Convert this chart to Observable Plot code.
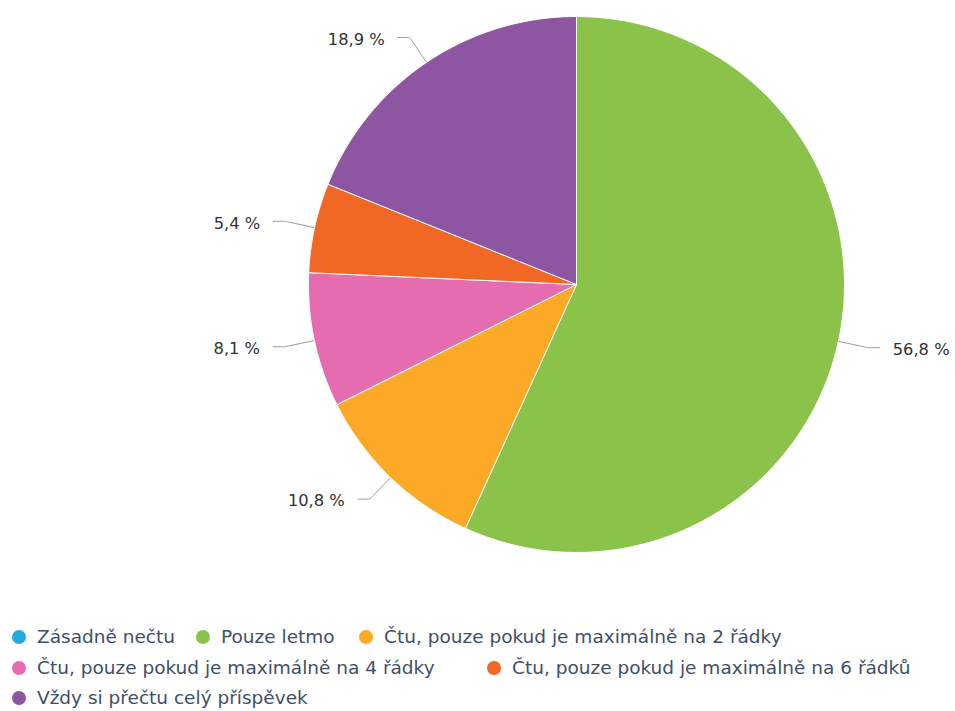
<!DOCTYPE html>
<html>
<head>
<meta charset="utf-8">
<script src="https://cdn.jsdelivr.net/npm/d3@7"></script>
<script src="https://cdn.jsdelivr.net/npm/@observablehq/plot@0.6"></script>
<style>
  html, body { margin: 0; padding: 0; background: #fff; }
  #wrap { position: relative; width: 955px; height: 711px; }
  #chart { position: absolute; left: 0; top: 0; }
  .lg { position: absolute; font-family: "DejaVu Sans", sans-serif; font-size: 18.5px; color: #3e5068; white-space: nowrap; line-height: 20px; }
  .lg .dot { position: absolute; width: 14px; height: 14px; border-radius: 50%; left: -25px; top: 3px; }
</style>
</head>
<body>
<div id="wrap"><div id="chart"></div><div id="legend"></div></div>
<script>
const names = [
  "Zásadně nečtu",
  "Pouze letmo",
  "Čtu, pouze pokud je maximálně na 2 řádky",
  "Čtu, pouze pokud je maximálně na 4 řádky",
  "Čtu, pouze pokud je maximálně na 6 řádků",
  "Vždy si přečtu celý příspěvek"
];
const values = [0, 56.8, 10.8, 8.1, 5.4, 18.9];
const colors = ["#24a9e1", "#8bc34a", "#fba926", "#e56caf", "#f16724", "#8e56a2"];
// legend text positions (left, top) in px
const legendPos = [[37, 627], [221, 627], [384, 627], [37, 658], [512, 658], [37, 688]];

const R = 268; // px radius
const pie = d3.pie().sort(null).value(d => d)(values);

const slices = [];
const connectors = [];
const labels = [];
pie.forEach((p, i) => {
  if (values[i] <= 0) return;
  const name = names[i];
  slices.push({name, x: 0, y: 0});
  const N = 120;
  for (let k = 0; k <= N; k++) {
    const a = p.startAngle + (p.endAngle - p.startAngle) * k / N;
    slices.push({name, x: Math.sin(a), y: Math.cos(a)});
  }
  slices.push({name, x: 0, y: 0});
  const mid = (p.startAngle + p.endAngle) / 2;
  const lr = 1 + 30 / R;
  const lx = Math.sin(mid) * lr, ly = Math.cos(mid) * lr;
  const side = Math.sin(mid) >= 0 ? 1 : -1;
  const ax = lx + side * 12 / R;
  const ex = Math.sin(mid), ey = Math.cos(mid);
  connectors.push({name, x: ax, y: ly}, {name, x: lx, y: ly}, {name, x: lx, y: ly}, {name, x: ex, y: ey});
  labels.push({name, x: ax, y: ly, side, text: values[i].toFixed(1).replace(".", ",") + " %"});
});

const chart = Plot.plot({
  width: 955,
  height: 600,
  margin: 0,
  x: {domain: [-1, 1], range: [308, 844], axis: null},
  y: {domain: [-1, 1], range: [552, 16], axis: null},
  color: {domain: names, range: colors},
  style: {fontFamily: "DejaVu Sans, sans-serif", background: "white"},
  marks: [
    Plot.line(connectors, {x: "x", y: "y", z: "name", curve: "basis", stroke: "#999", strokeWidth: 1}),
    Plot.line(slices, {x: "x", y: "y", z: "name", fill: "name", stroke: "white", strokeWidth: 1, curve: "linear"}),
    Plot.text(labels.filter(d => d.side < 0), {x: "x", y: "y", text: "text", textAnchor: "end", dx: -13, dy: 2, fontSize: 16.3, fill: "#333"}),
    Plot.text(labels.filter(d => d.side > 0), {x: "x", y: "y", text: "text", textAnchor: "start", dx: 13, dy: 2, fontSize: 16.3, fill: "#333"})
  ]
});
document.getElementById("chart").appendChild(chart);

const lg = document.getElementById("legend");
names.forEach((n, i) => {
  const d = document.createElement("div");
  d.className = "lg";
  d.style.left = legendPos[i][0] + "px";
  d.style.top = legendPos[i][1] + "px";
  const dot = document.createElement("span");
  dot.className = "dot";
  dot.style.background = colors[i];
  d.appendChild(dot);
  d.appendChild(document.createTextNode(n));
  lg.appendChild(d);
});
</script>
</body>
</html>
